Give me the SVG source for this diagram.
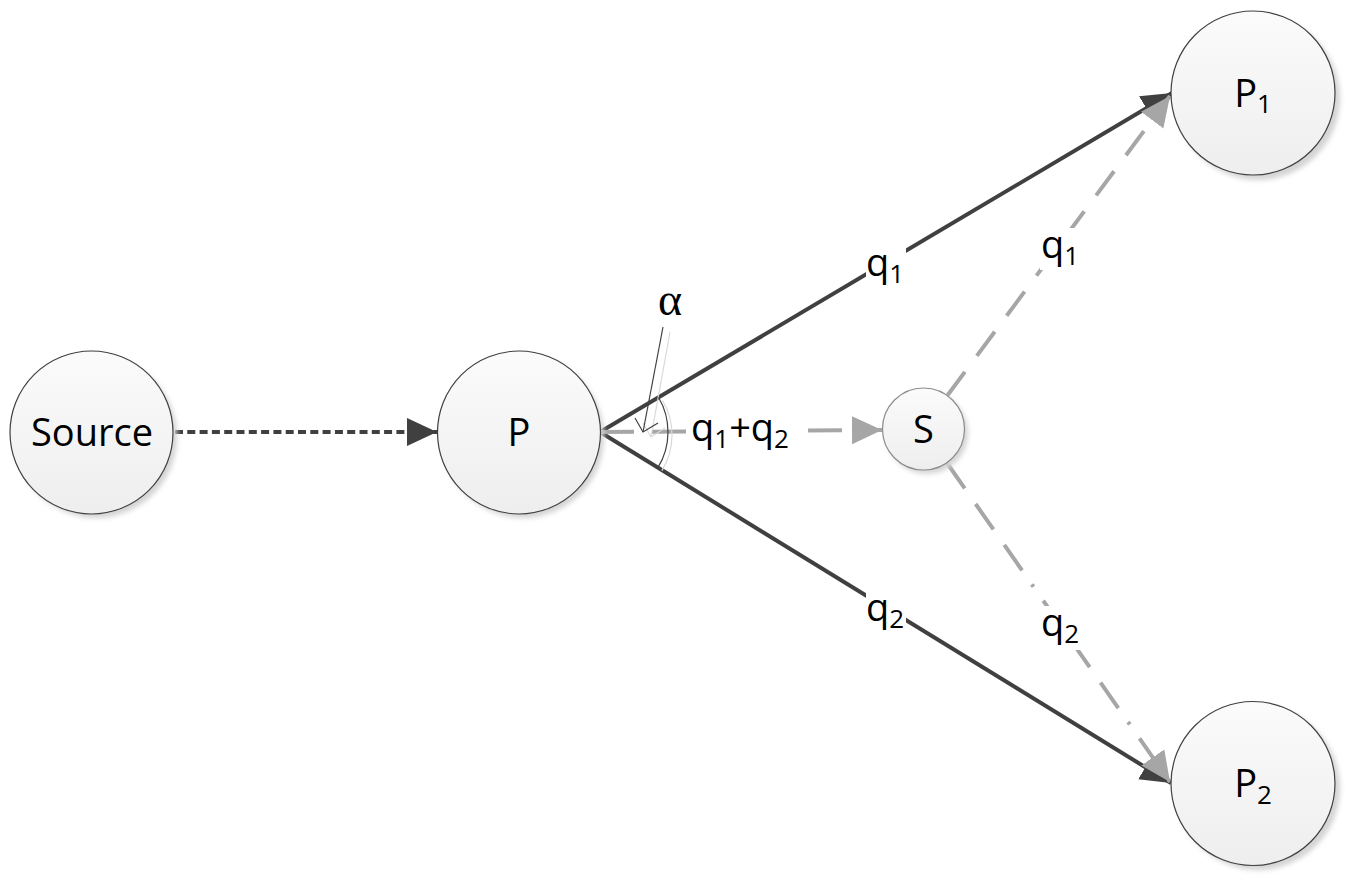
<svg xmlns="http://www.w3.org/2000/svg" width="1356" height="886" viewBox="0 0 1356 886">
<defs>
<linearGradient id="fillg" x1="0" y1="0" x2="0" y2="1">
<stop offset="0" stop-color="#fbfbfb"/>
<stop offset="1" stop-color="#eeeeee"/>
</linearGradient>
<filter id="blur" x="-20%" y="-20%" width="140%" height="140%">
<feGaussianBlur stdDeviation="2.5"/>
</filter>
<marker id="arrDark" markerUnits="userSpaceOnUse" markerWidth="32" markerHeight="30" refX="30" refY="14" orient="auto">
<path d="M0,0 L30,14 L0,28 Z" fill="#404040"/>
</marker>
<marker id="arrGray" markerUnits="userSpaceOnUse" markerWidth="32" markerHeight="30" refX="30" refY="14" orient="auto">
<path d="M0,0 L30,14 L0,28 Z" fill="#a6a6a6"/>
</marker>
</defs>
<style>
.shadow{fill:#d4d4d4;filter:url(#blur);}
.node{fill:url(#fillg);stroke:#404040;stroke-width:1.2;}
.nodeS{fill:url(#fillg);stroke:#8c8c8c;stroke-width:1.2;}
.lbl{font-family:"Open Sans","Noto Sans","Liberation Sans",sans-serif;font-size:38px;fill:#000;text-anchor:middle;}
.sub{font-size:26px;}
.dark{stroke:#404040;stroke-width:4;fill:none;}
.gray{stroke:#a6a6a6;stroke-width:4;fill:none;}
.bg{fill:#ffffff;}
</style>

<g id="connectors">
<line class="dark" x1="175" y1="432" x2="437" y2="432" stroke-dasharray="8 4.3" marker-end="url(#arrDark)"/>
<line class="dark" x1="600" y1="432" x2="1172" y2="93" marker-end="url(#arrDark)"/>
<line class="dark" x1="600" y1="432" x2="1171" y2="783" marker-end="url(#arrDark)"/>
<line class="gray" x1="600" y1="432" x2="882" y2="430" stroke-dasharray="34 18" marker-end="url(#arrGray)"/>
<line class="gray" x1="947" y1="396" x2="1170" y2="96" stroke-dasharray="30 20" marker-end="url(#arrGray)"/>
<line class="gray" x1="947" y1="463" x2="1170" y2="782" stroke-dasharray="31 19 31 19 31 17 3 17" marker-end="url(#arrGray)"/>

<rect class="bg" x="866" y="240" width="40" height="50"/>
<rect class="bg" x="866" y="592" width="40" height="44"/>
<rect class="bg" x="1040" y="228" width="40" height="42"/>
<rect class="bg" x="1040" y="606" width="40" height="44"/>
<rect class="bg" x="688" y="414" width="106" height="38"/>

<text class="lbl" x="885" y="276">q<tspan class="sub" dy="7">1</tspan></text>
<text class="lbl" x="885" y="621">q<tspan class="sub" dy="7">2</tspan></text>
<text class="lbl" x="1060" y="258">q<tspan class="sub" dy="7">1</tspan></text>
<text class="lbl" x="1060" y="636">q<tspan class="sub" dy="7">2</tspan></text>
<text class="lbl" x="740" y="441">q<tspan class="sub" dy="7">1</tspan><tspan dy="-7">+q</tspan><tspan class="sub" dy="7">2</tspan></text>
</g>

<g id="angle">
<path d="M662.6,400.5 A68,68 0 0 1 661.9,470.6" fill="none" stroke="#d9d9d9" stroke-width="1.2"/>
<line x1="670" y1="332" x2="651" y2="437" stroke="#d9d9d9" stroke-width="1.2"/>
<polyline points="643,423 651,437 665,428" fill="none" stroke="#d9d9d9" stroke-width="1.2"/>
<path d="M658.6,397.5 A68,68 0 0 1 657.9,467.6" fill="none" stroke="#404040" stroke-width="1.2"/>
<line x1="663" y1="327" x2="643" y2="432" stroke="#404040" stroke-width="1.2"/>
<polyline points="635,418 643,432 658,423" fill="none" stroke="#404040" stroke-width="1.2"/>
<text x="670" y="315" font-family="Liberation Serif, serif" font-size="46" text-anchor="middle" fill="#000">α</text>
</g>

<g id="node-source">
<circle class="shadow" cx="96" cy="437" r="81"/>
<circle class="node" cx="91.5" cy="432.5" r="81.5"/>
<text class="lbl" x="92" y="446">Source</text>
</g>

<g id="node-p">
<circle class="shadow" cx="523" cy="437" r="81"/>
<circle class="node" cx="519" cy="432.5" r="81.5"/>
<text class="lbl" x="519" y="446">P</text>
</g>

<g id="node-s">
<circle class="shadow" cx="927" cy="433" r="41"/>
<circle class="nodeS" cx="923.5" cy="429" r="41"/>
<text class="lbl" x="923.5" y="443">S</text>
</g>

<g id="node-p1">
<circle class="shadow" cx="1258" cy="98" r="82"/>
<circle class="node" cx="1253" cy="93" r="82"/>
<text class="lbl" x="1253" y="107">P<tspan class="sub" dy="6">1</tspan></text>
</g>

<g id="node-p2">
<circle class="shadow" cx="1258" cy="788" r="82"/>
<circle class="node" cx="1253" cy="783.5" r="82"/>
<text class="lbl" x="1253" y="797">P<tspan class="sub" dy="7">2</tspan></text>
</g>
</svg>
